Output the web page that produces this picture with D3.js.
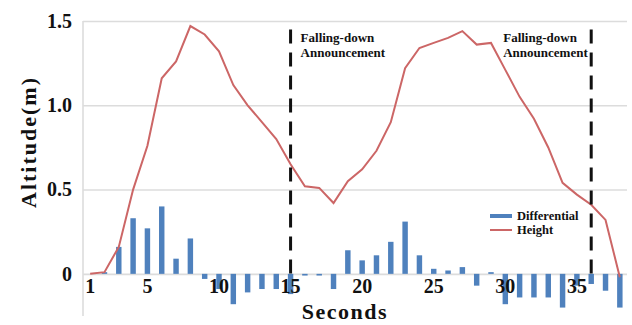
<!DOCTYPE html>
<html lang="en">
<head>
    <meta charset="UTF-8">
    <title>Altitude over time</title>
    <script src="https://d3js.org/d3.v7.min.js"></script>
    <style>
        body { margin: 0; background: #fff; }
        text { font-family: "Liberation Serif", "Times New Roman", serif; font-weight: bold; fill: #111; }
    </style>
</head>
<body>
    <div id="chart"></div>

    <script>
        // seconds on the x axis
        const seconds = [1, 2, 3, 4, 5, 6, 7, 8, 9, 10, 11, 12, 13, 14, 15, 16, 17, 18, 19,
                         20, 21, 22, 23, 24, 25, 26, 27, 28, 29, 30, 31, 32, 33, 34, 35, 36, 37, 38];

        // altitude (m)
        const height = [0, 0.01, 0.16, 0.5, 0.76, 1.16, 1.26, 1.47, 1.42, 1.32, 1.12, 1.0, 0.9,
                        0.8, 0.65, 0.52, 0.51, 0.42, 0.55, 0.62, 0.73, 0.9, 1.22, 1.34, 1.37,
                        1.4, 1.44, 1.36, 1.37, 1.21, 1.05, 0.92, 0.75, 0.54, 0.47, 0.41, 0.32, -0.02];

        // differential
        const differential = [0, 0.01, 0.16, 0.33, 0.27, 0.4, 0.09, 0.21, -0.03, -0.09, -0.18, -0.11,
                              -0.09, -0.09, -0.12, -0.01, -0.01, -0.09, 0.14, 0.08, 0.11, 0.19, 0.31,
                              0.11, 0.03, 0.02, 0.04, -0.07, 0.01, -0.18, -0.14, -0.14, -0.14, -0.2,
                              -0.07, -0.06, -0.1, -0.2];

        const yTicks = [0, 0.5, 1.0, 1.5];
        const yTickLabels = ["0", "0.5", "1.0", "1.5"];
        const xTicks = [1, 5, 10, 15, 20, 25, 30, 35];
        const announcements = [15, 36];

        const W = 632, H = 325;
        const margin = {top: 21, right: 5, bottom: 9, left: 83};

        const svg = d3.select("#chart").append("svg")
                      .attr("width", W)
                      .attr("height", H);

        const x = d3.scaleBand()
                    .domain(seconds)
                    .range([margin.left, W - margin.right])
                    .paddingInner(0.62)
                    .paddingOuter(0.31);
        const xc = d => x(d) + x.bandwidth() / 2;

        const y = d3.scaleLinear()
                    .domain([-0.25, 1.5])
                    .range([H - margin.bottom, margin.top]);

        // grid lines
        svg.append("g")
           .attr("transform", `translate(${margin.left},0)`)
           .call(d3.axisLeft(y).tickValues(yTicks).tickSize(-(W - margin.right - margin.left)).tickFormat(""))
           .call(g => g.select(".domain").remove())
           .selectAll("line")
           .attr("stroke", "#dcdcdc")
           .attr("stroke-width", 1.6);

        // left axis line
        svg.append("line")
           .attr("x1", margin.left).attr("x2", margin.left)
           .attr("y1", y(1.5)).attr("y2", y(-0.25))
           .attr("stroke", "#dcdcdc")
           .attr("stroke-width", 1.6);

        // bars
        svg.selectAll(".bar")
           .data(seconds)
           .enter()
           .append("rect")
           .attr("x", d => x(d))
           .attr("width", x.bandwidth())
           .attr("y", (d, i) => y(Math.max(0, differential[i])))
           .attr("height", (d, i) => Math.abs(y(differential[i]) - y(0)))
           .attr("fill", "#4f81bd");

        // height line
        svg.append("path")
           .datum(seconds)
           .attr("fill", "none")
           .attr("stroke", "#cc6666")
           .attr("stroke-width", 2)
           .attr("d", d3.line()
                        .x(d => xc(d))
                        .y((d, i) => y(height[i])));

        // falling-down announcement markers
        announcements.forEach((s, k) => {
            svg.append("line")
               .attr("x1", xc(s)).attr("x2", xc(s))
               .attr("y1", y(1.45)).attr("y2", y(0))
               .attr("stroke", "#111")
               .attr("stroke-width", 3)
               .attr("stroke-dasharray", "14,9");

            const tx = k === 0 ? xc(s) + 10 : xc(s) - 88;
            const t = svg.append("text")
                         .attr("x", tx)
                         .attr("y", 42)
                         .style("font-size", "13px");
            t.append("tspan").attr("x", tx).text("Falling-down");
            t.append("tspan").attr("x", tx).attr("dy", 15).text("Announcement");
        });

        // y axis labels
        svg.append("g")
           .attr("transform", `translate(${margin.left},0)`)
           .call(d3.axisLeft(y).tickValues(yTicks).tickSize(0).tickPadding(11)
                   .tickFormat((d, i) => yTickLabels[i]))
           .call(g => g.select(".domain").remove())
           .selectAll("text")
           .style("font-size", "20px")
           .style("font-family", "'Liberation Serif', serif")
           .attr("fill", "#111");

        // x axis labels
        svg.append("g")
           .attr("transform", `translate(0,${y(0)})`)
           .call(d3.axisBottom(x).tickValues(xTicks).tickSize(0).tickPadding(5))
           .call(g => g.select(".domain").remove())
           .selectAll("text")
           .style("font-size", "20px")
           .style("font-family", "'Liberation Serif', serif")
           .attr("fill", "#111");

        // axis titles
        svg.append("text")
           .attr("x", 345)
           .attr("y", 319)
           .attr("text-anchor", "middle")
           .style("font-size", "22px")
           .style("letter-spacing", "1.5px")
           .text("Seconds");

        svg.append("text")
           .attr("transform", "rotate(-90)")
           .attr("x", -142)
           .attr("y", 36)
           .attr("text-anchor", "middle")
           .style("font-size", "22px")
           .style("letter-spacing", "2px")
           .text("Altitude(m)");

        // legend
        const legend = svg.append("g").attr("transform", "translate(490,216)");
        legend.append("rect")
              .attr("x", 0).attr("y", -2)
              .attr("width", 22).attr("height", 4)
              .attr("fill", "#4f81bd");
        legend.append("text")
              .attr("x", 27).attr("y", 4)
              .style("font-size", "12.5px")
              .text("Differential");
        legend.append("line")
              .attr("x1", 0).attr("x2", 22)
              .attr("y1", 14).attr("y2", 14)
              .attr("stroke", "#cc6666")
              .attr("stroke-width", 2);
        legend.append("text")
              .attr("x", 27).attr("y", 18)
              .style("font-size", "12.5px")
              .text("Height");
    </script>
</body>
</html>
